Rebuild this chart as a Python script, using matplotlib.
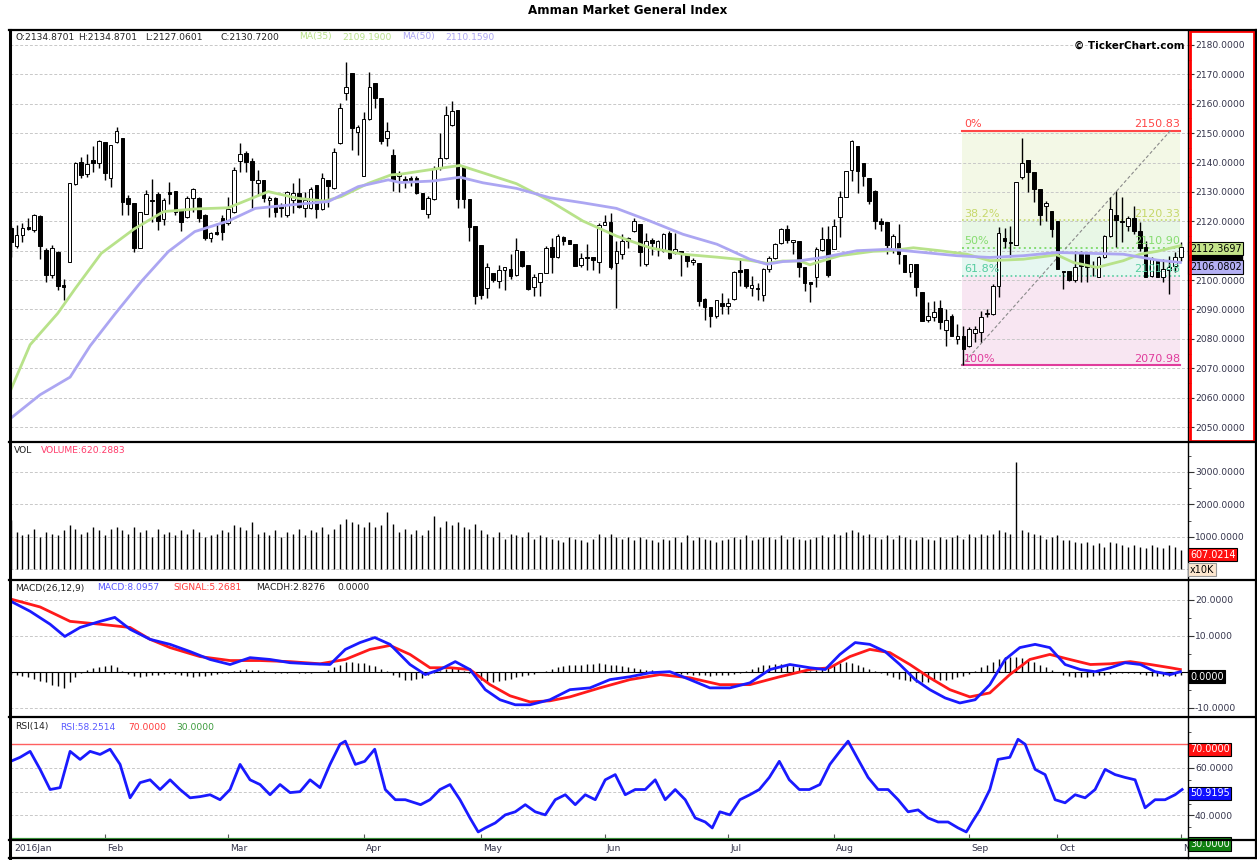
import numpy as np
import matplotlib.pyplot as plt
import matplotlib.transforms as mtransforms
from matplotlib.lines import Line2D
from matplotlib.patches import Rectangle

# ---- daily OHLC, one row per trading day, index 0 = first visible bar (Jan 2016)
opens = [2117.8, 2111.5, 2115.4, 2118.0, 2117.0, 2121.7, 2110.2, 2101.7, 2109.7, 2098.3,
         2106.3, 2132.6, 2140.3, 2136.0, 2141.0, 2140.0, 2146.9, 2134.6, 2146.9, 2148.2,
         2128.0, 2126.1, 2111.0, 2122.6, 2127.2, 2129.2, 2120.7, 2130.1, 2130.3, 2124.2,
         2121.6, 2128.0, 2128.0, 2122.2, 2114.4, 2116.3, 2121.0, 2119.3, 2123.3, 2140.5,
         2143.1, 2140.5, 2133.1, 2134.1, 2127.3, 2128.0, 2125.0, 2122.2, 2127.3, 2129.5,
         2124.5, 2124.5, 2132.4, 2124.2, 2134.0, 2131.2, 2146.5, 2163.8, 2170.3, 2150.5,
         2135.5, 2154.8, 2166.9, 2161.8, 2148.5, 2142.6, 2135.3, 2134.5, 2134.8, 2134.6,
         2129.7, 2122.4, 2127.5, 2138.2, 2141.4, 2152.7, 2157.8, 2138.8, 2127.5, 2118.4,
         2111.9, 2097.4, 2102.3, 2099.8, 2103.5, 2103.7, 2101.8, 2110.0, 2105.0, 2097.7,
         2099.2, 2102.5, 2111.4, 2107.8, 2114.7, 2113.6, 2112.4, 2105.1, 2107.8, 2107.8,
         2106.3, 2118.8, 2119.9, 2105.9, 2108.8, 2113.3, 2116.7, 2119.2, 2105.6, 2113.5,
         2110.5, 2110.0, 2116.1, 2109.3, 2110.0, 2108.4, 2106.1, 2105.9, 2093.5, 2090.8,
         2087.8, 2092.3, 2091.2, 2093.5, 2103.4, 2103.7, 2097.4, 2097.2, 2095.0, 2103.7,
         2107.6, 2112.7, 2117.3, 2112.9, 2113.2, 2104.3, 2099.2, 2101.0, 2110.2, 2114.0,
         2110.5, 2121.3, 2128.3, 2137.4, 2145.7, 2140.0, 2134.7, 2130.2, 2120.2, 2119.6,
         2110.2, 2112.5, 2108.6, 2102.9, 2105.4, 2095.8, 2086.4, 2087.4, 2090.5, 2083.0,
         2087.9, 2080.0, 2081.1, 2077.7, 2082.0, 2082.5, 2088.3, 2088.4, 2098.0, 2114.3,
         2112.8, 2112.0, 2134.9, 2140.8, 2136.6, 2131.0, 2125.3, 2123.6, 2120.2, 2103.2,
         2103.0, 2100.0, 2108.8, 2108.8, 2104.6, 2101.1, 2107.7, 2115.1, 2122.1, 2120.2,
         2118.5, 2121.1, 2116.8, 2111.1, 2101.5, 2106.6, 2100.9, 2103.5, 2104.9, 2107.9]
highs = [2118.5, 2118.8, 2119.3, 2121.0, 2122.4, 2122.0, 2110.8, 2112.0, 2110.0, 2100.4,
         2133.0, 2140.3, 2142.0, 2143.0, 2145.7, 2147.7, 2147.1, 2146.0, 2152.2, 2148.3,
         2129.0, 2126.3, 2123.3, 2130.7, 2134.4, 2130.1, 2127.8, 2133.5, 2130.3, 2124.2,
         2128.6, 2131.2, 2128.4, 2122.4, 2116.5, 2119.3, 2122.2, 2128.4, 2138.6, 2146.5,
         2143.9, 2141.7, 2137.5, 2134.1, 2128.7, 2128.3, 2126.1, 2130.3, 2132.9, 2134.6,
         2130.1, 2131.8, 2132.4, 2136.3, 2134.0, 2144.8, 2160.2, 2174.3, 2170.3, 2152.8,
         2157.3, 2170.9, 2166.9, 2161.8, 2153.9, 2144.5, 2137.0, 2135.4, 2135.4, 2135.4,
         2129.7, 2128.6, 2138.8, 2150.1, 2159.2, 2160.9, 2157.8, 2138.8, 2127.5, 2118.4,
         2111.9, 2105.9, 2102.3, 2105.1, 2104.6, 2108.8, 2114.4, 2110.0, 2105.0, 2102.0,
         2102.3, 2111.6, 2114.4, 2115.6, 2115.1, 2113.8, 2112.4, 2109.3, 2112.4, 2107.8,
         2119.3, 2122.2, 2122.8, 2113.3, 2115.6, 2114.6, 2121.0, 2119.2, 2116.1, 2114.4,
         2113.5, 2116.1, 2116.7, 2116.1, 2110.0, 2108.8, 2107.4, 2105.9, 2094.0, 2090.8,
         2093.2, 2095.7, 2093.8, 2103.2, 2107.6, 2103.7, 2101.4, 2099.1, 2104.1, 2108.2,
         2112.7, 2117.8, 2118.8, 2113.6, 2113.2, 2104.3, 2099.2, 2111.1, 2118.1, 2118.5,
         2120.7, 2130.2, 2137.2, 2147.6, 2145.7, 2140.0, 2134.7, 2130.6, 2121.1, 2119.6,
         2115.7, 2119.0, 2108.6, 2105.4, 2105.4, 2095.8, 2092.4, 2093.0, 2093.2, 2090.1,
         2088.4, 2085.0, 2084.5, 2083.9, 2084.5, 2089.6, 2090.1, 2098.6, 2118.1, 2117.7,
         2118.5, 2133.2, 2148.5, 2140.8, 2136.6, 2131.0, 2126.8, 2123.6, 2120.2, 2103.2,
         2103.0, 2110.0, 2110.0, 2109.4, 2106.6, 2108.3, 2115.3, 2128.1, 2130.4, 2128.3,
         2121.9, 2125.3, 2119.6, 2113.4, 2107.7, 2106.8, 2107.1, 2108.3, 2109.4, 2112.8]
lows = [2108.0, 2110.8, 2113.0, 2117.0, 2116.5, 2107.2, 2099.5, 2100.6, 2096.6, 2093.2,
        2106.0, 2132.3, 2134.6, 2135.2, 2136.8, 2138.0, 2134.1, 2131.8, 2146.5, 2122.2,
        2122.2, 2109.7, 2110.8, 2122.4, 2119.9, 2117.0, 2118.8, 2126.0, 2122.2, 2116.7,
        2121.0, 2123.3, 2119.9, 2113.6, 2113.1, 2115.4, 2113.6, 2118.8, 2122.7, 2136.9,
        2136.9, 2124.4, 2129.0, 2126.7, 2121.6, 2121.6, 2121.6, 2121.6, 2122.7, 2124.4,
        2121.6, 2124.2, 2121.2, 2124.0, 2125.0, 2131.0, 2146.2, 2161.3, 2144.3, 2142.6,
        2135.5, 2154.5, 2158.4, 2146.2, 2145.7, 2130.3, 2130.0, 2131.2, 2132.0, 2129.4,
        2124.1, 2121.0, 2127.2, 2137.6, 2141.1, 2152.4, 2124.4, 2124.6, 2113.3, 2092.0,
        2093.5, 2094.0, 2099.4, 2097.4, 2096.8, 2100.5, 2101.5, 2104.3, 2096.6, 2094.6,
        2094.6, 2102.3, 2102.5, 2107.6, 2111.9, 2112.2, 2104.8, 2104.3, 2103.6, 2103.6,
        2102.3, 2118.6, 2103.9, 2090.6, 2107.1, 2111.0, 2116.5, 2104.8, 2104.8, 2108.5,
        2108.2, 2109.4, 2107.1, 2108.8, 2101.4, 2104.3, 2105.1, 2091.2, 2086.3, 2084.0,
        2087.2, 2088.4, 2088.4, 2093.2, 2097.9, 2097.4, 2094.6, 2093.2, 2092.9, 2102.6,
        2107.1, 2112.2, 2112.7, 2108.8, 2100.9, 2096.4, 2092.4, 2097.5, 2110.0, 2100.9,
        2110.5, 2114.5, 2128.1, 2133.8, 2129.5, 2132.1, 2125.9, 2117.3, 2116.8, 2108.8,
        2109.1, 2105.4, 2102.9, 2101.1, 2094.7, 2086.2, 2085.6, 2086.0, 2083.3, 2077.7,
        2081.1, 2078.2, 2071.0, 2077.3, 2078.8, 2078.8, 2087.5, 2088.1, 2094.1, 2110.9,
        2107.7, 2112.0, 2134.4, 2129.8, 2126.4, 2118.8, 2120.2, 2114.5, 2103.7, 2096.9,
        2099.8, 2099.5, 2099.5, 2099.2, 2101.5, 2100.9, 2107.5, 2114.7, 2111.1, 2112.8,
        2116.8, 2115.6, 2110.0, 2100.9, 2101.1, 2100.9, 2099.2, 2095.2, 2102.6, 2106.6]
closes = [2112.9, 2115.3, 2117.8, 2117.5, 2122.2, 2111.6, 2101.7, 2110.8, 2098.1, 2097.5,
          2132.9, 2140.0, 2135.8, 2139.4, 2139.9, 2147.3, 2136.3, 2146.0, 2150.7, 2126.7,
          2125.8, 2111.0, 2123.1, 2129.2, 2126.8, 2120.1, 2127.4, 2129.2, 2123.1, 2119.9,
          2128.0, 2131.0, 2121.0, 2114.2, 2115.9, 2115.8, 2116.5, 2124.2, 2137.5, 2142.8,
          2140.1, 2134.1, 2134.2, 2127.8, 2128.0, 2123.3, 2124.6, 2129.9, 2129.5, 2125.0,
          2127.3, 2131.0, 2124.1, 2134.8, 2132.0, 2143.7, 2158.4, 2165.8, 2151.9, 2152.2,
          2154.8, 2165.8, 2161.8, 2147.3, 2150.7, 2134.1, 2136.5, 2133.5, 2134.2, 2129.7,
          2124.1, 2127.8, 2138.2, 2141.4, 2156.1, 2157.5, 2127.5, 2127.5, 2118.0, 2094.6,
          2094.9, 2104.4, 2100.0, 2103.5, 2104.5, 2101.4, 2110.1, 2104.8, 2097.0, 2100.9,
          2102.3, 2111.0, 2107.8, 2115.1, 2113.3, 2112.4, 2104.8, 2107.6, 2107.6, 2106.9,
          2118.8, 2119.8, 2104.6, 2109.9, 2113.3, 2114.4, 2120.0, 2109.7, 2113.3, 2112.7,
          2113.3, 2115.6, 2107.6, 2110.5, 2109.3, 2106.5, 2107.0, 2092.9, 2090.8, 2087.8,
          2093.2, 2091.2, 2092.3, 2102.6, 2102.6, 2098.0, 2098.3, 2096.9, 2103.7, 2107.4,
          2112.4, 2117.3, 2113.5, 2113.5, 2104.4, 2098.9, 2098.6, 2110.5, 2114.0, 2101.8,
          2118.5, 2128.3, 2137.0, 2147.4, 2137.0, 2135.5, 2127.0, 2120.2, 2119.0, 2112.0,
          2115.1, 2108.8, 2102.9, 2105.4, 2097.5, 2086.2, 2087.9, 2089.3, 2085.6, 2086.5,
          2081.1, 2081.1, 2076.5, 2083.3, 2083.3, 2087.5, 2088.7, 2098.0, 2115.9, 2113.2,
          2112.6, 2133.2, 2139.7, 2136.6, 2131.0, 2122.2, 2126.1, 2117.3, 2103.7, 2102.8,
          2100.0, 2104.3, 2104.9, 2104.3, 2104.3, 2107.9, 2115.1, 2124.2, 2120.4, 2119.8,
          2121.1, 2116.8, 2110.9, 2101.1, 2107.5, 2100.9, 2103.7, 2104.3, 2107.7, 2111.1]

# volume, units of 10K
volume = [1530, 1150, 1050, 1100, 1250, 1000, 1150, 1100, 1050, 1200,
          1350, 1250, 1100, 1150, 1300, 1200, 1050, 1250, 1300, 1200,
          1100, 1300, 1150, 1200, 1000, 1250, 1100, 1150, 1050, 1200,
          1100, 1250, 1150, 1000, 1050, 1100, 1200, 1150, 1350, 1300,
          1200, 1450, 1100, 1150, 1050, 1200, 1000, 1150, 1100, 1250,
          1050, 1200, 1150, 1300, 1100, 1250, 1400, 1550, 1450, 1400,
          1300, 1450, 1300, 1350, 1780, 1400, 1150, 1250, 1100, 1200,
          1050, 1200, 1650, 1300, 1500, 1350, 1450, 1300, 1250, 1400,
          1200, 1100, 1000, 1150, 950, 1100, 1050, 1000, 1150, 950,
          1050, 1000, 950, 900, 850, 1000, 950, 900, 850, 950,
          1100, 1000, 1100, 1000, 950, 1000, 900, 1000, 950, 900,
          850, 950, 900, 1000, 850, 1050, 900, 1000, 950, 900,
          850, 900, 950, 1000, 950, 1050, 900, 950, 1000, 1000,
          950, 1050, 950, 1000, 950, 900, 950, 1000, 1050, 1000,
          1100, 1050, 1150, 1200, 1150, 1050, 1100, 1000, 950, 1050,
          950, 1050, 1000, 950, 900, 1000, 950, 900, 1000, 950,
          1000, 1050, 950, 1100, 1000, 1100, 1050, 1100, 1200, 1150,
          1100, 3300, 1200, 1150, 1100, 1050, 950, 1000, 1050, 900,
          900, 850, 800, 850, 750, 800, 700, 850, 800, 750,
          700, 750, 700, 650, 750, 700, 650, 750, 700, 607]

# moving averages: (bar index, value)
ma35_idx = [0, 3.3, 8, 11, 15.4, 21, 26, 31.3, 37, 43.8, 48.9, 53.4, 56.2, 60.8, 64.7, 66.2,
            71.8, 76.4, 80.3, 86, 91.7, 97.3, 103, 108.7, 114.3, 120.1, 125.7, 128.6, 131.3,
            134.2, 135.9, 138.1, 141, 146.7, 149.5, 153.5, 158, 162.6, 166.5, 172.2, 177.9,
            180.7, 184.7, 189.2, 192, 195, 198.9]
ma35_val = [2062.6, 2078.0, 2088.7, 2097.2, 2109.1, 2117.4, 2123.3, 2124.2, 2124.6, 2130.1,
            2127.8, 2126.9, 2128.4, 2132.9, 2135.8, 2136.0, 2137.7, 2139.0, 2136.5, 2132.8,
            2126.9, 2120.1, 2115.0, 2111.0, 2108.8, 2107.8, 2106.7, 2105.7, 2106.5, 2106.5,
            2105.2, 2106.6, 2108.3, 2109.8, 2110.0, 2111.0, 2110.0, 2108.8, 2106.6, 2107.1,
            2108.6, 2106.0, 2104.3, 2106.6, 2108.8, 2109.8, 2111.7]
ma50_idx = [0, 5, 10.1, 13.5, 17.7, 22.2, 26.8, 31.3, 37, 41.6, 47.7, 54, 59.1, 64.2, 66.2,
            71.8, 76.4, 80.3, 86, 91.7, 97.3, 103, 108.7, 114.3, 120.1, 125.7, 128.6, 131.3,
            134.2, 138.1, 143.9, 149.5, 155.2, 160.9, 166.5, 172.2, 177.9, 183.6, 189.2, 195,
            198.9]
ma50_val = [2053.0, 2061.0, 2067.0, 2077.6, 2088.4, 2099.5, 2109.7, 2116.5, 2120.1, 2124.4,
            2125.6, 2126.7, 2131.8, 2134.1, 2133.2, 2133.7, 2135.0, 2133.1, 2131.2, 2128.0,
            2126.3, 2124.4, 2120.1, 2115.6, 2112.2, 2107.1, 2105.4, 2106.3, 2106.6, 2107.7,
            2110.0, 2110.5, 2109.4, 2108.3, 2107.7, 2108.3, 2109.4, 2109.1, 2108.8, 2106.8,
            2106.0]

# MACD(26,12,9) lines
macd_idx = [0, 3.3, 6.7, 9.2, 11.8, 15.2, 17.7, 20.3, 23.7, 27.1, 30.5, 33.9, 37.3, 40.7,
            44.1, 47.5, 50.9, 54.3, 56.9, 59.4, 61.9, 64.5, 67.9, 70.5, 73, 75.6, 78.1, 80.7,
            83.2, 85.8, 88.3, 91.7, 95.1, 98.5, 101.9, 105.3, 108.7, 112.1, 115.5, 118.9,
            122.3, 125.7, 129.1, 132.5, 135.9, 138.5, 141, 143.6, 146.1, 148.7, 151.2, 153.8,
            156.3, 158.9, 161.4, 164, 166.5, 169.1, 171.6, 174.2, 176.7, 179.3, 181.9, 184.4,
            187, 189.5, 192.1, 194.6, 197.2, 198.9]
macd_val = [19.6, 16.8, 13.2, 9.8, 12.3, 14.0, 15.1, 11.8, 9.0, 7.6, 5.6, 3.4, 2.0, 3.9,
            3.4, 2.5, 2.2, 2.0, 6.2, 8.1, 9.5, 7.6, 2.0, -0.8, 0.6, 2.8, 0.6, -5.0,
            -7.8, -9.2, -9.2, -7.8, -5.0, -4.5, -2.2, -1.4, -0.3, 0.0, -2.2, -4.5,
            -4.5, -3.1, 0.6, 2.0, 1.1, 0.6, 4.8, 8.1, 7.6, 5.6, 2.0, -2.2,
            -5.0, -7.3, -8.7, -7.8, -3.6, 3.4, 6.7, 7.6, 6.7, 2.0, 0.6, 0.0,
            1.1, 2.5, 2.0, 0.0, -0.8, 0.0]
signal_idx = [0, 5, 10.1, 15.2, 20.3, 23.7, 27.1, 32.2, 37.3, 42.4, 47.5, 52.6, 56.9, 61.1,
              64.5, 67.9, 71.3, 74.7, 78.1, 81.5, 84.9, 88.3, 91.7, 95.1, 100.2, 105.3,
              110.4, 115.5, 120.6, 125.7, 130.8, 135.9, 139.3, 142.7, 146.1, 149.5, 152.9,
              156.3, 159.7, 163.1, 166.5, 169.9, 173.3, 176.7, 180.1, 183.6, 187, 190.4,
              193.8, 197.2, 198.9]
signal_val = [20.2, 18.0, 14.0, 13.2, 12.3, 9.0, 6.7, 4.2, 3.1, 3.1, 2.8, 2.2, 3.4, 6.2,
              7.3, 4.8, 1.1, 1.1, 0.6, -3.6, -6.7, -8.4, -8.1, -7.0, -4.5, -2.2,
              -0.8, -1.7, -3.6, -3.6, -1.4, 0.6, 1.1, 4.2, 6.2, 5.3, 2.0,
              -1.7, -5.0, -7.0, -5.9, -0.8, 3.4, 4.8, 3.4, 2.0, 2.2, 2.8,
              2.0, 1.1, 0.6]
macdh = [-0.6, -0.9, -1.2, -1.6, -2.0, -2.5, -3.0, -3.6, -4.1, -4.5,
         -3.0, -1.5, -0.5, 0.4, 0.9, 1.3, 1.6, 1.8, 1.2, 0.2,
         -0.6, -1.2, -1.5, -1.2, -0.9, -0.8, -0.6, -0.3, -0.6, -0.9,
         -1.2, -1.4, -1.3, -1.1, -0.9, -0.7, -0.5, -0.3, 0.2, 0.5,
         0.8, 0.6, 0.4, 0.2, -0.1, -0.3, -0.4, -0.3, -0.2, -0.3,
         -0.4, -0.3, -0.2, 0.0, 0.5, 1.2, 2.0, 2.6, 2.8, 2.5,
         2.4, 2.0, 1.5, 0.8, 0.2, -0.8, -1.6, -2.2, -2.4, -2.0,
         -1.7, -1.0, -0.5, 0.2, 0.8, 1.2, 1.0, 0.2, -0.5, -1.5,
         -2.2, -2.8, -2.8, -2.6, -2.4, -2.0, -1.6, -1.2, -0.9, -0.6,
         -0.2, 0.2, 0.8, 1.3, 1.6, 1.8, 1.9, 2.0, 2.1, 2.2,
         2.3, 2.2, 2.0, 1.8, 1.5, 1.2, 1.0, 0.8, 0.6, 0.4,
         0.2, 0.0, -0.2, -0.4, -0.6, -0.7, -0.8, -0.9, -1.0, -1.1,
         -1.0, -0.9, -0.8, -0.6, -0.3, 0.2, 0.8, 1.4, 1.8, 2.0,
         2.1, 2.2, 2.0, 1.6, 1.2, 0.6, 0.2, 0.5, 1.0, 1.5,
         2.0, 2.4, 2.6, 2.4, 2.0, 1.4, 0.8, 0.2, -0.4, -1.0,
         -1.6, -2.0, -2.4, -2.7, -2.9, -3.0, -2.9, -2.7, -2.4, -2.2,
         -1.9, -1.6, -1.2, -0.6, 0.2, 1.2, 2.0, 2.8, 3.5, 4.0,
         4.2, 4.1, 3.8, 3.2, 2.6, 1.9, 1.2, 0.6, -0.2, -0.8,
         -1.2, -1.4, -1.5, -1.4, -1.2, -1.0, -0.8, -0.6, -0.4, -0.3,
         -0.3, -0.4, -0.6, -0.9, -1.1, -1.2, -1.3, -1.3, -1.1, -0.8]

# RSI(14)
rsi_idx = [0, 1.6, 3.3, 5, 6.7, 8.4, 10.1, 11.8, 13.5, 15.2, 16.9, 18.6, 20.3, 22, 23.7,
           25.4, 27.1, 28.8, 30.5, 32.2, 33.9, 35.6, 37.3, 39, 40.7, 42.4, 44.1, 45.8, 47.5,
           49.2, 50.9, 52.6, 54.3, 56, 56.9, 58.6, 60.2, 61.9, 63.7, 65.4, 67.1, 69.7, 71.3,
           73, 74.7, 76.4, 78.1, 79.5, 80.7, 82.4, 84.1, 85.8, 87.5, 89.2, 90.9, 92.6, 94.3,
           96, 97.7, 99.4, 101.1, 102.8, 104.5, 106.2, 107.9, 109.6, 111.3, 113, 114.7, 116.4,
           118.1, 119.3, 120.6, 122.3, 124, 125.7, 127.3, 129, 130.7, 132.4, 134.1, 135.8,
           137.6, 139.3, 141, 142.4, 144.1, 145.8, 147.5, 149.2, 150.9, 152.6, 154.3, 156,
           157.7, 159.4, 161.1, 162.5, 163.5, 164.8, 166.5, 167.9, 169.9, 171.3, 172.5, 174.2,
           175.9, 177.6, 179.3, 181, 182.7, 184.4, 186.1, 187.8, 189.5, 191.2, 192.9, 194.6,
           196.3, 198, 199.2]
rsi_val = [62.8, 64.5, 67.0, 59.4, 50.9, 51.7, 67.0, 63.6, 67.0, 65.7, 67.9, 61.5, 47.4, 53.8,
           55.0, 50.9, 55.0, 50.9, 47.4, 47.9, 48.7, 46.6, 50.9, 61.5, 55.0, 53.0, 48.7, 53.0,
           49.6, 50.0, 55.0, 51.7, 61.5, 70.0, 71.3, 61.5, 62.8, 67.9, 50.9, 46.6, 46.6, 44.5,
           46.6, 50.9, 53.0, 46.6, 38.9, 33.0, 34.7, 36.8, 40.2, 41.5, 44.5, 41.5, 40.2, 46.6,
           48.7, 44.5, 48.7, 46.6, 55.0, 57.2, 48.7, 50.9, 50.9, 55.0, 46.6, 50.9, 46.6, 38.9,
           37.2, 34.7, 41.5, 40.2, 46.6, 48.7, 50.9, 56.0, 62.8, 55.0, 50.9, 50.9, 53.0, 61.5,
           67.0, 71.3, 63.6, 56.0, 50.9, 50.9, 46.6, 41.5, 42.3, 38.9, 37.2, 37.2, 34.7, 33.0,
           37.2, 42.3, 50.9, 63.6, 64.5, 72.1, 70.0, 59.4, 57.2, 46.6, 45.3, 48.7, 47.4, 50.9,
           59.4, 57.2, 56.0, 55.0, 43.2, 46.6, 46.6, 48.7, 50.9]

month_idx = [0, 16, 37, 60, 80, 101, 122, 140, 163, 178, 199]
month_lbl = ['2016Jan', 'Feb', 'Mar', 'Apr', 'May', 'Jun', 'Jul', 'Aug', 'Sep', 'Oct', 'N']

fib_start, fib_end = 161.7, 198.9
fib_high, fib_low = 2150.83, 2070.98

# ---------------------------------------------------------------- layout
W, H = 1257, 860
fig = plt.figure(figsize=(W / 100, H / 100), dpi=100)
plt.rcParams['font.family'] = 'DejaVu Sans'

def box(x0, y0, x1, y1):
    return [x0 / W, 1 - y1 / H, (x1 - x0) / W, (y1 - y0) / H]

ax_p = fig.add_axes(box(10, 30, 1188, 442))
ax_v = fig.add_axes(box(10, 442, 1188, 580))
ax_m = fig.add_axes(box(10, 580, 1188, 717))
ax_r = fig.add_axes(box(10, 717, 1188, 840))

xlim = (-0.12, 200.2)
lab_col = '#33334a'
FS = 6.6

for ax in (ax_p, ax_v, ax_m, ax_r):
    ax.set_xlim(*xlim)
    ax.yaxis.tick_right()
    ax.tick_params(axis='y', which='major', direction='out', length=4, width=0.8,
                   labelsize=FS, labelcolor=lab_col, color='#333333', pad=1)
    ax.tick_params(axis='y', which='minor', direction='out', length=2.5, width=0.6,
                   color='#333333')
    ax.tick_params(axis='x', which='both', bottom=False, labelbottom=False)
    ax.grid(axis='y', which='major', color='#c8c8c8', linestyle=(0, (3, 2)), lw=0.7)
    ax.set_axisbelow(True)
    for s in ('top', 'bottom', 'left'):
        ax.spines[s].set_visible(False)
    ax.spines['right'].set_color('black')
    ax.spines['right'].set_linewidth(1.0)

def fmt_hide(hidden):
    # tick labels that sit under a value tag are left blank
    return plt.FuncFormatter(lambda v, p: '' if any(abs(v - h) < 1e-6 for h in hidden)
                             else '%.4f' % v)

idx = np.arange(len(closes))
o = np.array(opens); c = np.array(closes)
hi = np.array(highs); lo = np.array(lows)

# ---------------------------------------------------------------- price panel
ax_p.set_ylim(2044.93, 2185.07)
ax_p.set_yticks(np.arange(2050, 2181, 10))
ax_p.set_yticks(np.arange(2045, 2185, 5), minor=True)
ax_p.yaxis.set_major_formatter(fmt_hide([2110]))

# fibonacci retracement
levels = [fib_high,
          fib_high - 0.382 * (fib_high - fib_low),
          fib_high - 0.5 * (fib_high - fib_low),
          fib_high - 0.618 * (fib_high - fib_low),
          fib_low]
zone_cols = ['#f3f8e6', '#e8f7e6', '#e6f7f1', '#f8e6f2']
for k in range(4):
    ax_p.fill_between([fib_start, fib_end], levels[k + 1], levels[k],
                      color=zone_cols[k], lw=0, zorder=0.5)
fib_names = ['0%', '38.2%', '50%', '61.8%', '100%']
fib_cols = ['#ff4646', '#c6d86a', '#86dc70', '#56cca0', '#e03c9c']
fib_ls = ['-', ':', ':', ':', '-']
fib_lw = [1.5, 1.2, 1.4, 1.2, 1.5]
for lev, nm, col, ls, lw in zip(levels, fib_names, fib_cols, fib_ls, fib_lw):
    ax_p.plot([fib_start, fib_end], [lev, lev], color=col, ls=ls, lw=lw, zorder=1)
    ax_p.text(fib_start + 0.4, lev + 0.6, nm, color=col, fontsize=8, va='bottom',
              ha='left', zorder=6)
    ax_p.text(fib_end, lev + 0.6, '%.2f' % lev, color=col, fontsize=8, va='bottom',
              ha='right', zorder=6)
ax_p.plot([fib_start, 197.2], [fib_low, fib_high], color='#8a8a8a', lw=0.8,
          ls=(0, (3, 2)), zorder=1.2)

# candles
ax_p.vlines(idx, lo, hi, color='black', lw=1.0, zorder=2.5)
body_h = np.maximum(np.abs(c - o), 0.15)
fills = ['white' if cc >= oo else 'black' for oo, cc in zip(o, c)]
ax_p.bar(idx, body_h, bottom=np.minimum(o, c), width=0.62, color=fills,
         edgecolor='black', linewidth=0.7, zorder=3)

ax_p.plot(ma35_idx, ma35_val, color='#b8e28a', lw=2.0, zorder=4, solid_joinstyle='round')
ax_p.plot(ma50_idx, ma50_val, color='#aca6f2', lw=2.0, zorder=4, solid_joinstyle='round')

ax_p.text(0.9975, 0.975, '\u00a9 TickerChart.com', transform=ax_p.transAxes, ha='right',
          va='top', fontsize=7.5, fontweight='bold', color='black')

# ---------------------------------------------------------------- volume panel
ax_v.set_ylim(-325, 3916)
ax_v.set_yticks([0, 1000, 2000, 3000])
ax_v.set_yticks(np.arange(0, 3900, 500), minor=True)
ax_v.yaxis.set_major_formatter(fmt_hide([0]))
ax_v.vlines(idx, 0, volume, color='black', lw=1.0, zorder=3)

# ---------------------------------------------------------------- macd panel
ax_m.set_ylim(-12.6, 25.5)
ax_m.set_yticks([-10, 0, 10, 20])
ax_m.set_yticks(np.arange(-10, 25, 5), minor=True)
ax_m.yaxis.set_major_formatter(fmt_hide([0]))
ax_m.axhline(0, color='black', lw=0.8, zorder=2)
ax_m.vlines(idx, 0, macdh, color='black', lw=1.0, zorder=2)
ax_m.plot(signal_idx, signal_val, color='#ff1a1a', lw=2.0, zorder=3)
ax_m.plot(macd_idx, macd_val, color='#1a1aff', lw=2.0, zorder=4)

# ---------------------------------------------------------------- rsi panel
ax_r.set_ylim(29.6, 81.5)
ax_r.set_yticks([30, 40, 50, 60, 70])
ax_r.set_yticks(np.arange(30, 80, 5), minor=True)
ax_r.yaxis.set_major_formatter(fmt_hide([30, 50, 70]))
ax_r.axhline(70, color='#ff6060', lw=1.0, zorder=2)
ax_r.axhline(30, color='#40a040', lw=1.6, zorder=2)
ax_r.plot(rsi_idx, rsi_val, color='#1a1aff', lw=2.0, zorder=4)

ax_r.set_xticks(month_idx)
ax_r.tick_params(axis='x', which='major', bottom=True, direction='in', length=4,
                 width=0.8, color='#555555', labelbottom=False)
for mi, ml in zip(month_idx, month_lbl):
    ax_r.annotate(ml, xy=(max(mi, 0.2), 0), xycoords=('data', 'axes fraction'),
                  xytext=(1.5, -3), textcoords='offset points', ha='left', va='top',
                  fontsize=FS, color=lab_col)

# ---------------------------------------------------------------- value tags on the right
def tag(ax, y, txt, fc, tc='white', ec='black'):
    tr = mtransforms.blended_transform_factory(ax.transAxes, ax.transData)
    ax.text(1.0017, y, txt, transform=tr, ha='left', va='top', fontsize=FS + 0.3,
            color=tc, clip_on=False, zorder=10,
            bbox=dict(boxstyle='square,pad=0.18', fc=fc, ec=ec, lw=0.8))

# black strip of the hidden last-close tag between the two MA tags
tr_p = mtransforms.blended_transform_factory(ax_p.transAxes, ax_p.transData)
ax_p.add_patch(Rectangle((1.0012, 2105.8), 0.0445, 3.6, transform=tr_p, fc='black',
                         ec='black', clip_on=False, zorder=9))
tag(ax_p, 2112.37, '2112.3697', '#c4e48a', 'black')
tag(ax_p, 2106.08, '2106.0802', '#b4b0f4', 'black')
tag(ax_v, 607, '607.0214', '#ff1010')
tag(ax_v, 150, 'x10K', '#fde7cf', 'black', '#999999')
tag(ax_m, 0, '0.0000', '#000000')
tag(ax_r, 70, '70.0000', '#ff1010')
tag(ax_r, 51.4, '50.9195', '#1010ff')
tag(ax_r, 30, '30.0000', '#108010')

# ---------------------------------------------------------------- headers
def hdr(y, parts):
    for xx, txt, col in parts:
        fig.text(xx / W, 1 - y / H, txt, fontsize=FS, color=col, va='center', ha='left')

hdr(37, [(15, 'O:2134.8701', '#222222'), (78, 'H:2134.8701', '#222222'),
         (145, 'L:2127.0601', '#222222'), (221, 'C:2130.7200', '#222222'),
         (299, 'MA(35)', '#b8e08a'), (342, '2109.1900', '#b8e08a'),
         (402, 'MA(50)', '#aca6f2'), (445, '2110.1590', '#aca6f2')])
hdr(451, [(14, 'VOL', '#222222'), (41, 'VOLUME:620.2883', '#ff3a6a')])
hdr(588, [(15, 'MACD(26,12,9)', '#222222'), (97, 'MACD:8.0957', '#5a5aff'),
          (173, 'SIGNAL:5.2681', '#ff3a3a'), (256, 'MACDH:2.8276', '#222222'),
          (337, '0.0000', '#222222')])
hdr(727, [(15, 'RSI(14)', '#222222'), (60, 'RSI:58.2514', '#5a5aff'),
          (128, '70.0000', '#ff3a3a'), (176, '30.0000', '#3a9a3a')])

fig.text(628 / W, 1 - 11 / H, 'Amman Market General Index', ha='center', va='center',
         fontsize=8.6, fontweight='bold', color='black')

# ---------------------------------------------------------------- frame lines
def fline(x0, y0, x1, y1, col='black', lw=1.6):
    fig.add_artist(Line2D([x0 / W, x1 / W], [1 - y0 / H, 1 - y1 / H], color=col, lw=lw))

for yy in (442, 580, 717, 840):
    fline(9, yy, 1257, yy)
fline(9, 29.5, 1257, 29.5)
fline(9, 858, 1257, 858)
fline(9.5, 29.5, 9.5, 858, lw=2.2)
fline(1256, 29.5, 1256, 858)
fline(1188, 840, 1188, 858, lw=1.0)
fig.add_artist(Rectangle((1189.5 / W, 1 - 441 / H), (1254 - 1189.5) / W, (441 - 31) / H,
                         transform=fig.transFigure, fill=False, ec='#ff0000', lw=2))

fig.savefig('out.png', dpi=100)
